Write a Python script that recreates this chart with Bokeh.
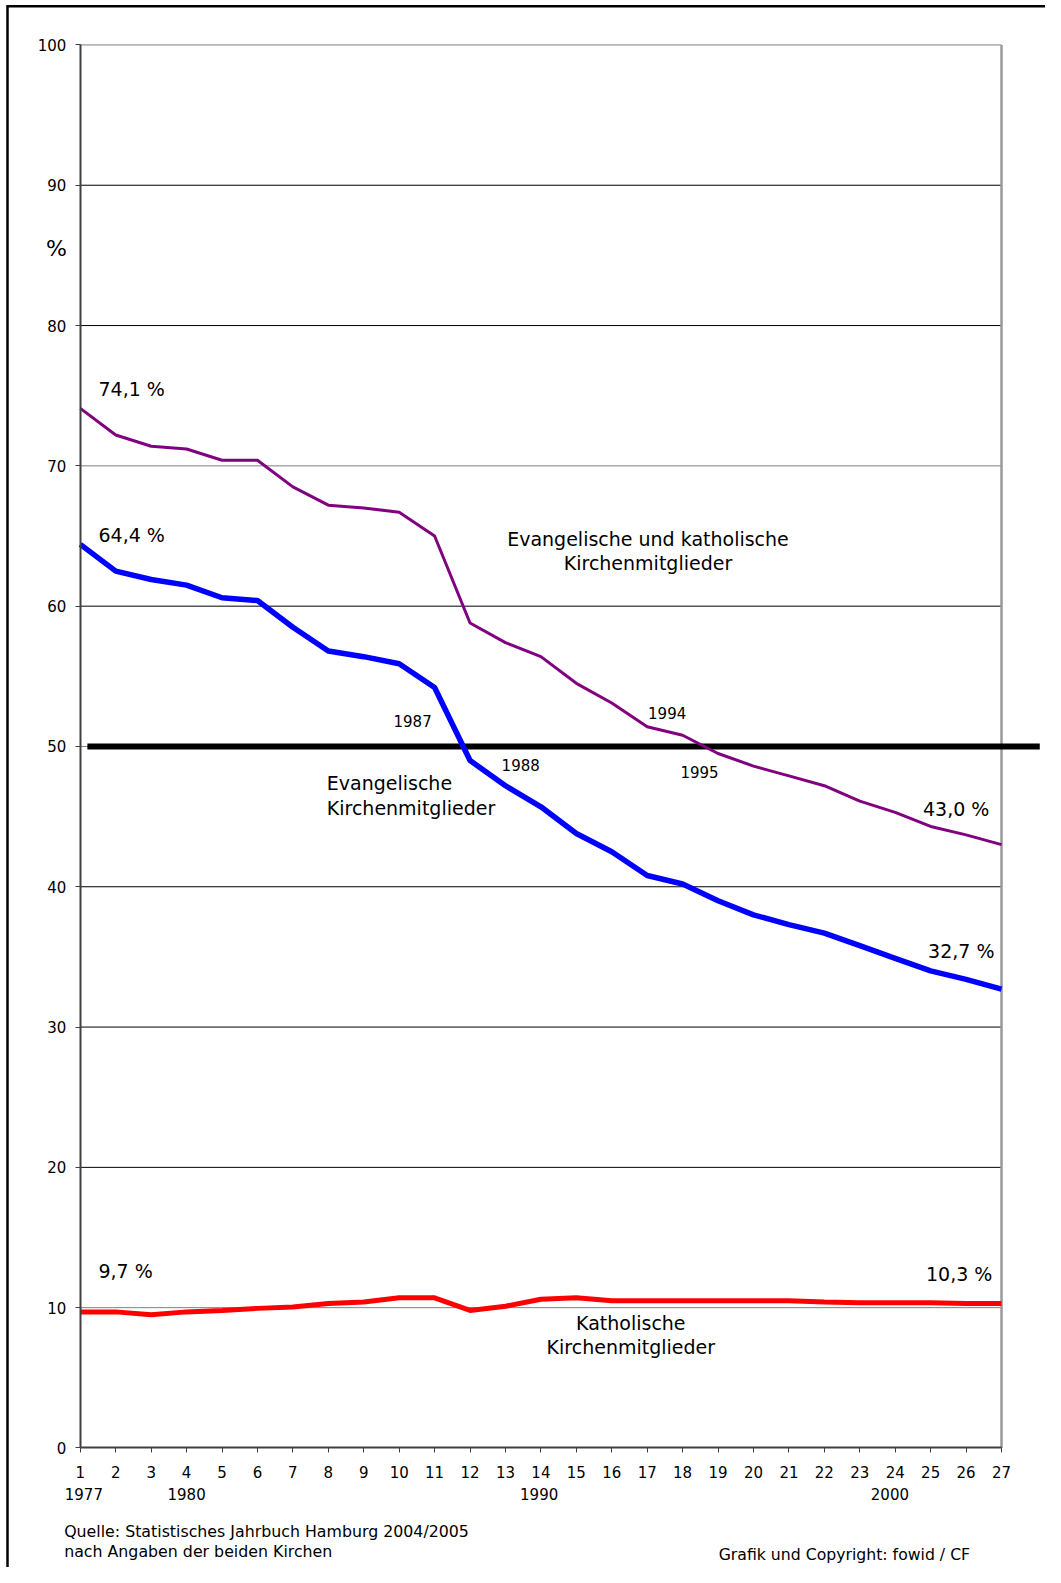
from bokeh.plotting import figure
from bokeh.models import Range1d, FixedTicker, Label, ColumnDataSource
from bokeh.embed import file_html
from bokeh.resources import INLINE

# ---- data ----
index = list(range(1, 28))
total = [74.1, 72.2, 71.4, 71.2, 70.4, 70.4, 68.5, 67.2, 67.0, 66.7, 65.0, 58.8, 57.4,
         56.4, 54.5, 53.1, 51.4, 50.8, 49.5, 48.6, 47.9, 47.2, 46.1, 45.3, 44.3, 43.7, 43.0]
evangelisch = [64.4, 62.5, 61.9, 61.5, 60.6, 60.4, 58.5, 56.8, 56.4, 55.9, 54.2, 49.0, 47.2,
               45.7, 43.8, 42.5, 40.8, 40.2, 39.0, 38.0, 37.3, 36.7, 35.8, 34.9, 34.0, 33.4, 32.7]
katholisch = [9.7, 9.7, 9.5, 9.7, 9.8, 9.95, 10.05, 10.3, 10.4, 10.7, 10.7, 9.8, 10.1,
              10.6, 10.7, 10.5, 10.5, 10.5, 10.5, 10.5, 10.5, 10.4, 10.35, 10.35, 10.35, 10.3, 10.3]
y_ticks = [0, 10, 20, 30, 40, 50, 60, 70, 80, 90, 100]
grid_values = [100, 90, 80, 70, 60, 50, 40, 30, 20, 10]
year_labels = ["1977", "1980", "1990", "2000"]
year_positions = [1, 4, 14, 24]
threshold = 50
threshold_x = [1.2, 28.08]

FONT = "DejaVu Sans"

# ---- layout helpers (reference pixel positions -> data coordinates) ----
W, H = 1045, 1567
S = 0.99
PX_X1, PX_X27 = 79, 991
PX_Y0, PX_Y100 = 1433, 44
sx = (PX_X27 - PX_X1) / 26.0
sy = (PX_Y0 - PX_Y100) / 100.0


def xpx(px):
    return 1 + (px - PX_X1) / sx


def ypx(py):
    return (PX_Y0 - py) / sy


x_lo, x_hi = xpx(0), xpx(W * S)
y_hi, y_lo = ypx(0), ypx(H * S)

p = figure(width=W, height=H, x_range=Range1d(x_lo, x_hi), y_range=Range1d(y_lo, y_hi),
           output_backend="svg", toolbar_location=None,
           min_border=0, min_border_left=0, min_border_right=0,
           min_border_top=0, min_border_bottom=0)
p.xgrid.visible = False
p.ygrid.visible = False
p.outline_line_color = None
p.background_fill_color = "white"
p.border_fill_color = "white"

# page frame (top & left)
top_y = ypx(5.7 * S)
left_x = xpx(7 * S)
p.line([left_x, left_x, x_hi], [y_lo, top_y, top_y], line_color="black", line_width=2.5,
       line_join="miter")

# custom grid lines from x=1 to x=27
grid_colors = ["#808080", "#000000", "#000000", "#808080", "#000000", "#808080",
               "#000000", "#000000", "#000000", "#808080"]
gsrc = ColumnDataSource(dict(x0=[index[0]] * len(grid_values), x1=[index[-1]] * len(grid_values),
                             y=grid_values, c=grid_colors))
p.segment(x0="x0", y0="y", x1="x1", y1="y", source=gsrc, line_color="c", line_width=1)
# right frame edge
p.segment(x0=[index[-1]], y0=[y_ticks[0]], x1=[index[-1]], y1=[y_ticks[-1]],
          line_color="#999999", line_width=2.5)

# threshold line
p.line(threshold_x, [threshold, threshold], line_color="black", line_width=6)

# series
p.line(index, total, line_color="#800080", line_width=3)
p.line(index, evangelisch, line_color="#0000FF", line_width=5.5)
p.line(index, katholisch, line_color="#FF0000", line_width=5)

# axes (placed inside the frame at data positions)
for ax in (p.xaxis, p.yaxis):
    ax.axis_line_color = "#404040"
    ax.axis_line_width = 2
    ax.major_tick_line_color = "#404040"
    ax.major_tick_line_width = 1
    ax.major_tick_in = 0
    ax.major_tick_out = 5
    ax.minor_tick_line_color = None
    ax.major_label_text_font = FONT
    ax.major_label_text_color = "black"

p.xaxis.ticker = FixedTicker(ticks=index)
p.xaxis.bounds = (index[0], index[-1])
p.xaxis.fixed_location = y_ticks[0]
p.xaxis.major_label_standoff = 13
p.xaxis.major_label_text_font_size = "15px"
p.yaxis.ticker = FixedTicker(ticks=y_ticks)
p.yaxis.bounds = (y_ticks[0], y_ticks[-1])
p.yaxis.fixed_location = index[0]
p.yaxis.major_label_standoff = 9
p.yaxis.major_label_text_font_size = "15px"


def lab(x, y, text, size="19px", align="left"):
    p.add_layout(Label(x=x, y=y, text=text, text_font=FONT, text_font_size=size,
                       text_align=align, text_baseline="middle", text_color="black"))


lab(xpx(45), ypx(246), "%", size="22px")
lab(xpx(97), ypx(385), "74,1 %")
lab(xpx(97), ypx(529), "64,4 %")
lab(xpx(641), ypx(533), "Evangelische und katholische", align="center")
lab(xpx(641), ypx(557), "Kirchenmitglieder", align="center")
lab(xpx(408), ypx(713), "1987", size="15px", align="center")
lab(xpx(515), ypx(757), "1988", size="15px", align="center")
lab(xpx(660), ypx(705), "1994", size="15px", align="center")
lab(xpx(692), ypx(764), "1995", size="15px", align="center")
lab(xpx(323), ypx(775), "Evangelische")
lab(xpx(323), ypx(799), "Kirchenmitglieder")
lab(xpx(979), ypx(800), "43,0 %", align="right")
lab(xpx(984), ypx(941), "32,7 %", align="right")
lab(xpx(97), ypx(1258), "9,7 %")
lab(xpx(982), ypx(1261), "10,3 %", align="right")
lab(xpx(624), ypx(1309), "Katholische", align="center")
lab(xpx(624), ypx(1333), "Kirchenmitglieder", align="center")

# year captions under the axis (slight offsets as in the original)
year_offsets = [0.1, 0.0, -0.05, -0.15]
for yr, pos, off in zip(year_labels, year_positions, year_offsets):
    lab(pos + off, ypx(1479), yr, size="15px", align="center")

lab(xpx(63), ypx(1516), "Quelle: Statistisches Jahrbuch Hamburg 2004/2005", size="15.8px")
lab(xpx(63), ypx(1535), "nach Angaben der beiden Kirchen", size="15.8px")
lab(xpx(711), ypx(1538), "Grafik und Copyright: fowid / CF", size="15.7px")

open("out.html", "w").write(file_html(p, INLINE))
